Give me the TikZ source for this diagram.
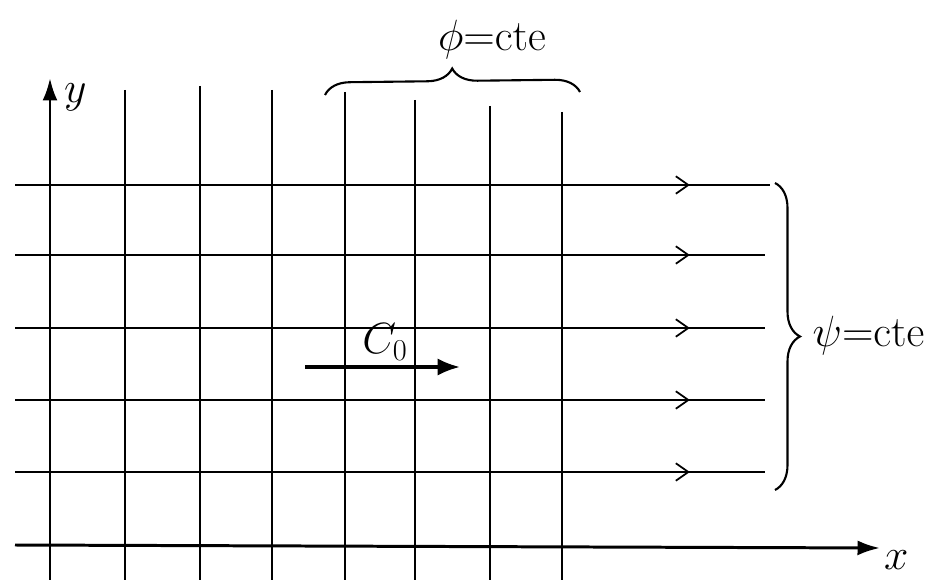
\documentclass[tikz,border=0pt]{standalone}
\usepackage{tikz}
\usetikzlibrary{arrows.meta,positioning,calc,decorations.pathreplacing,decorations.markings}

\begin{document}
\begin{tikzpicture}[>=Latex,x=0.02cm,y=-0.02cm]
  \tikzstyle{grid}=[line width=1pt]
  \tikzstyle{axis}=[line width=1.7pt,-{Latex[length=4.5mm,width=3mm]}]
  \tikzstyle{flow}=[grid,postaction={decorate},decoration={markings,mark=at position 13.5cm with {\arrow{Straight Barb[length=2.5mm,width=3.5mm,line width=1pt]}}}]
  \tikzstyle{bigbrace}=[line width=1.2pt,decorate,decoration={brace,amplitude=0.5cm}]
  \tikzstyle{lab}=[font=\fontsize{25}{30}\selectfont,inner sep=1pt]
  \useasboundingbox (0,0) rectangle (936,580);

  % potential lines
  \foreach \x/\t in {125/90,200/86,272/90,345/92,415/100,490/106,562/112}
    \draw[grid] (\x,\t) -- (\x,580);

  % streamlines
  \foreach \y/\e in {185/770,255/765,328/765,400/765,472/765}
    \draw[flow] (15,\y) -- (\e,\y);

  % axes
  \coordinate (O) at (50,545);
  \coordinate (ytip) at (50,78);
  \coordinate (xtip) at (880,548);
  \draw[axis] (50,580) -- (ytip);
  \draw[axis] (15,545) -- (xtip);
  \node[lab,anchor=north west] (ylab) at (62,82) {$y$};
  \node[lab,anchor=west] (xlab) at (882,560) {$x$};

  % braces
  \coordinate (phiA) at (325,95);
  \coordinate (phiB) at (580,92);
  \draw[bigbrace] (phiA) -- (phiB);
  \node[lab] (phi) at (492,40) {$\phi{=}\mathrm{cte}$};
  \coordinate (psiA) at (775,183);
  \coordinate (psiB) at (775,490);
  \coordinate (psiM) at (800,336);
  \draw[bigbrace] (psiA) -- (psiB);
  \node[lab,right=6pt of psiM] (psi) {$\psi{=}\mathrm{cte}$};

  % uniform flow velocity
  \coordinate (c0s) at (305,367);
  \coordinate (c0e) at (460,367);
  \draw[line width=2pt,-{Latex[length=4.5mm,width=3.5mm]}] (c0s) -- (c0e);
  \node[lab] (c0) at (385,342) {$C_0$};
\end{tikzpicture}
\end{document}
